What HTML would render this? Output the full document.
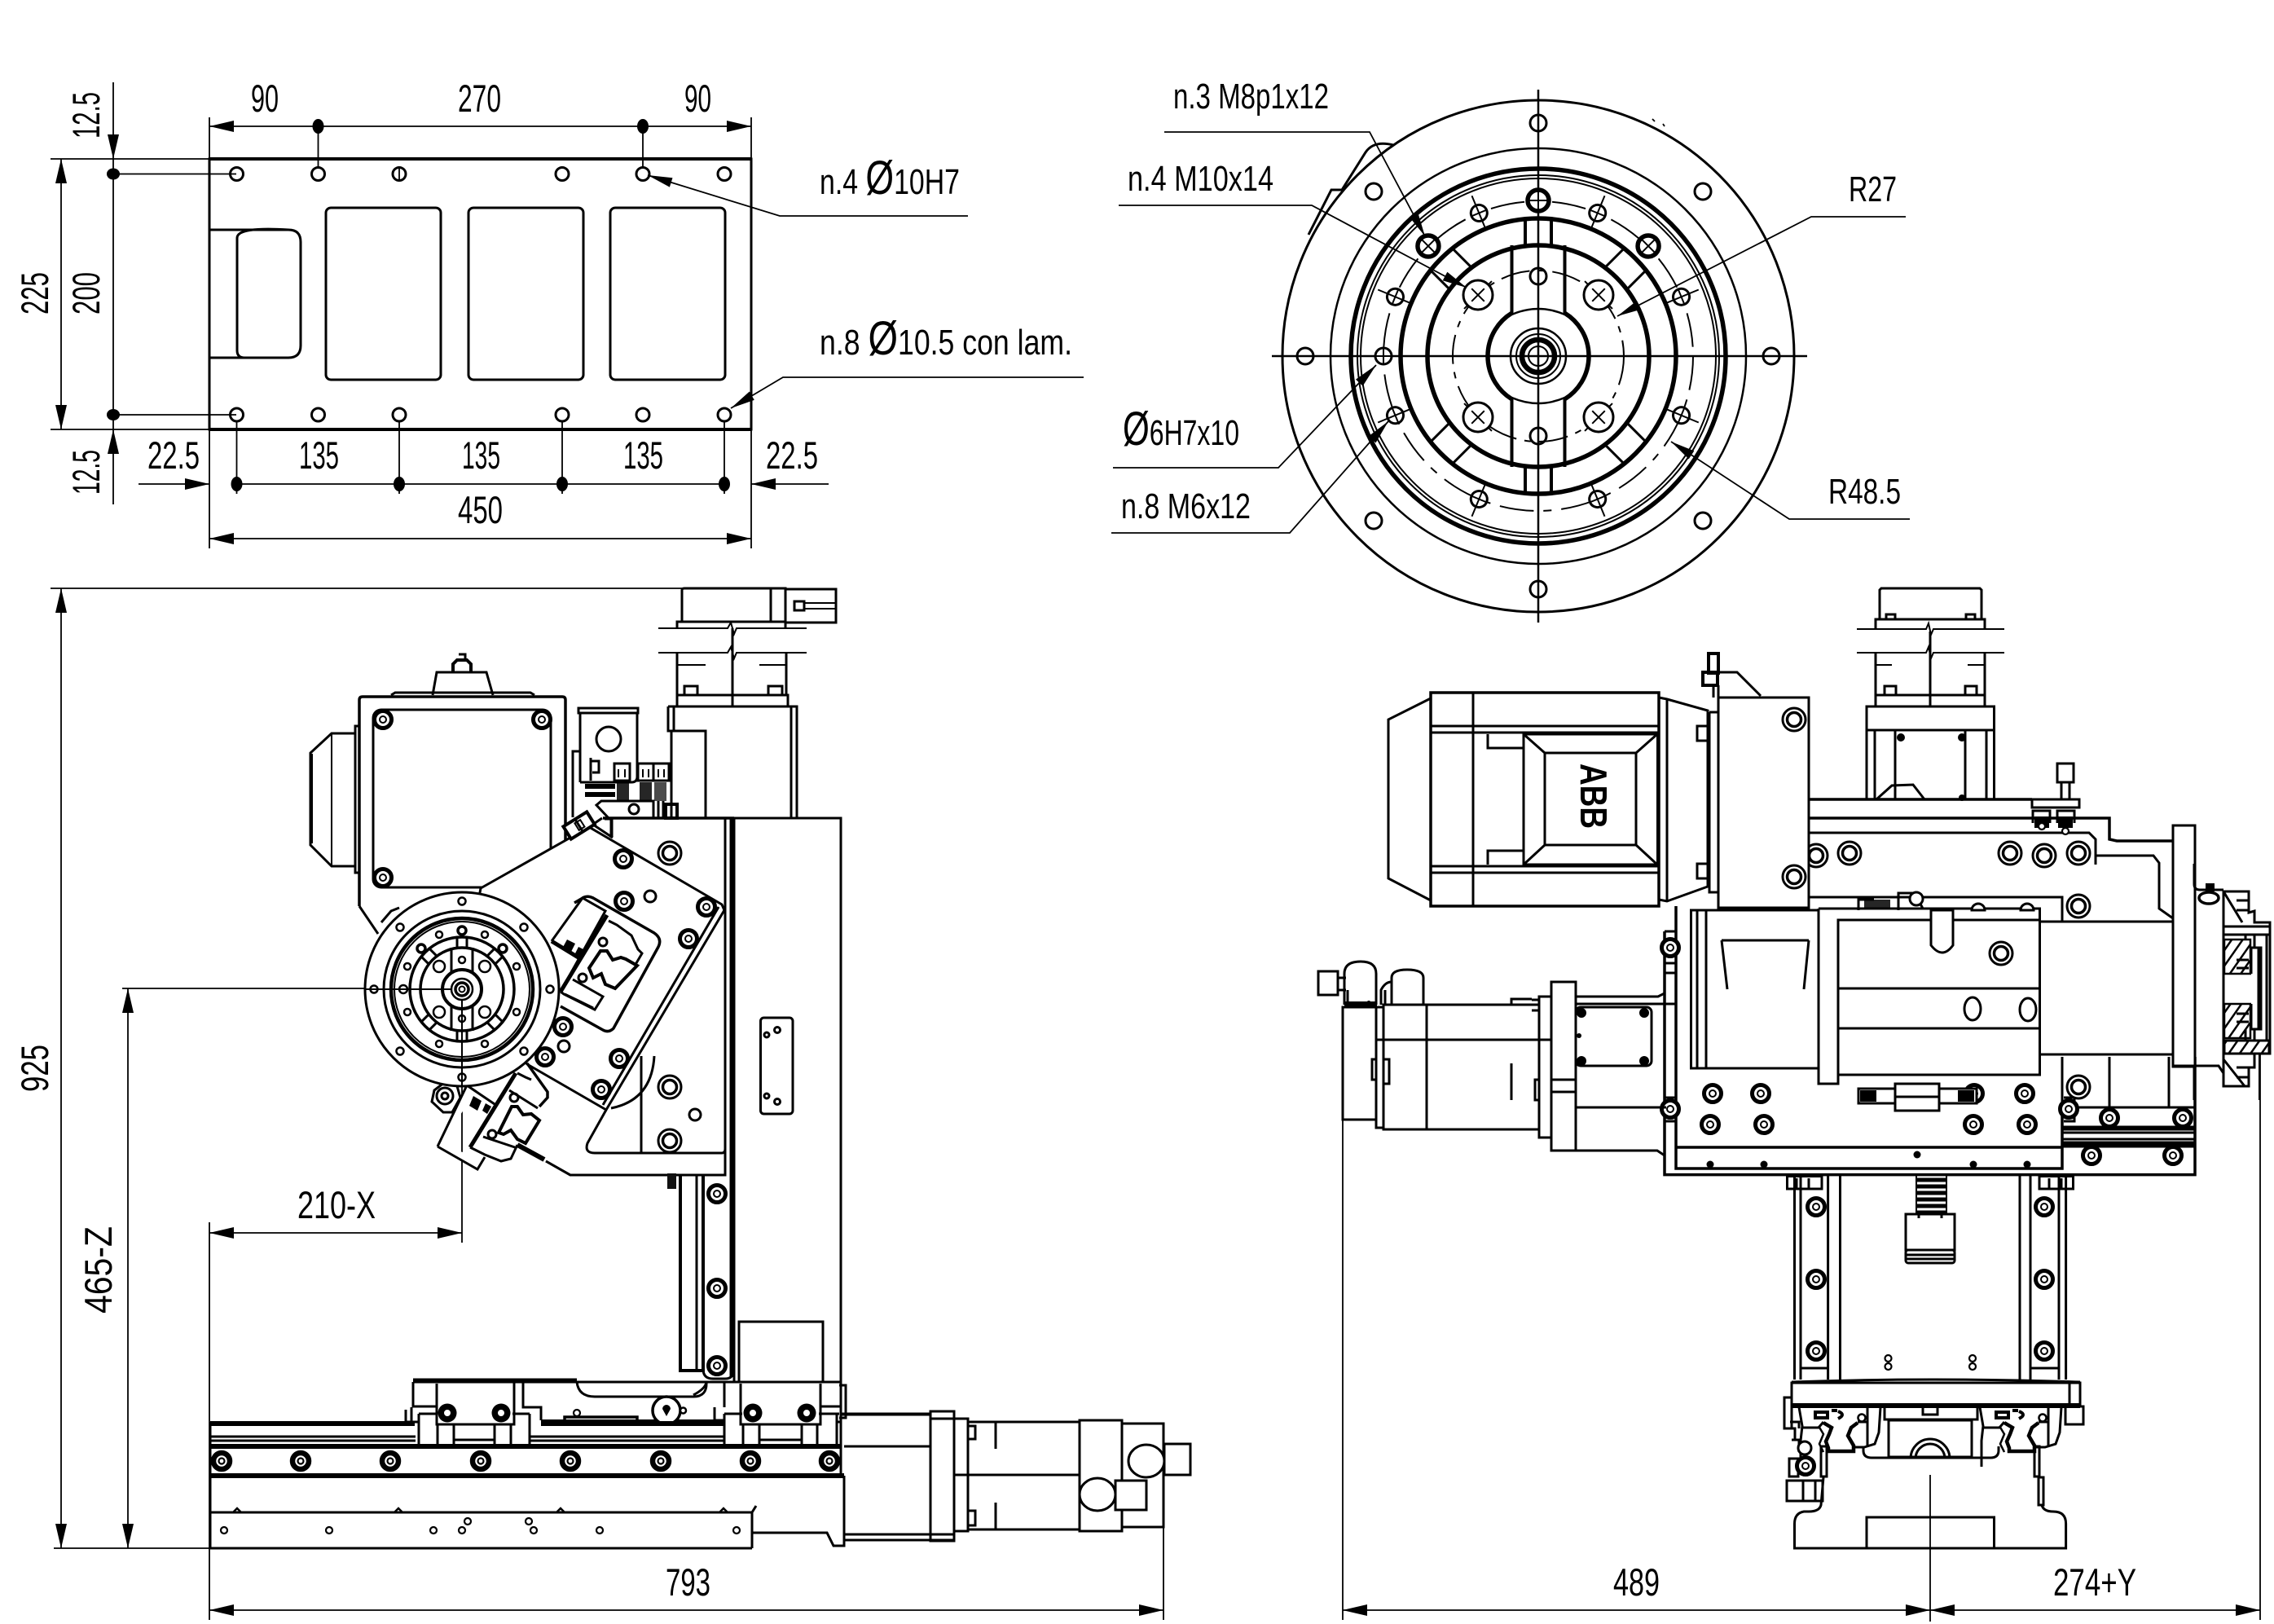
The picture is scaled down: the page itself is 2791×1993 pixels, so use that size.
<!DOCTYPE html>
<html><head><meta charset="utf-8"><style>
html,body{margin:0;padding:0;background:#fff}
svg{display:block}
.o,.o *{fill:none;stroke:#000;stroke-width:3}
.w,.w *{fill:#fff;stroke:#000;stroke-width:3}
.d,.d *{fill:none;stroke:#000;stroke-width:1.8}
.h,.h *{fill:#000;stroke:none}
.k{fill:none;stroke:#000;stroke-width:5.5}
.t{fill:none;stroke:#000;stroke-width:2}
text{font-family:"Liberation Sans",sans-serif;font-size:47px;fill:#000;stroke:none}
.s{font-size:44px}
.z{font-size:58px}
</style></head><body>
<svg xmlns="http://www.w3.org/2000/svg" width="2791" height="1993" viewBox="0 0 2791 1993">
<defs>
<pattern id="ht" width="11" height="11" patternUnits="userSpaceOnUse" patternTransform="rotate(35)"><rect width="11" height="11" fill="#fff"/><rect width="2.5" height="11" fill="#000"/></pattern>
<g id="b"><circle r="10.5" fill="#fff" stroke="#000" stroke-width="5"/><circle r="4" fill="none" stroke="#000" stroke-width="2"/></g>
<g id="bb"><circle r="10" fill="#fff" stroke="#000" stroke-width="6.5"/><circle r="3.5" fill="none" stroke="#000" stroke-width="2.2"/></g>
<g id="bh"><circle r="14" fill="#fff" stroke="#000" stroke-width="3"/><circle r="8.5" fill="#fff" stroke="#000" stroke-width="3.5"/></g>
<g id="p"><circle r="7" fill="#fff" stroke="#000" stroke-width="3"/></g>
<g id="q"><circle r="4" fill="#fff" stroke="#000" stroke-width="2.2"/></g>
<g id="m6"><path d="M0-23V23" stroke="#000" stroke-width="2" fill="none"/><circle r="10" fill="#fff" stroke="#000" stroke-width="3"/><path d="M0-10V10M-10 0H10" stroke="#000" stroke-width="2" fill="none"/></g>
<g id="m8"><circle r="13" fill="#fff" stroke="#000" stroke-width="5.5"/><path d="M0-12V12M-12 0H12" stroke="#000" stroke-width="2" fill="none"/></g>
<g id="m10"><path d="M-24 0H24" stroke="#000" stroke-width="2" fill="none"/><circle r="18" fill="#fff" stroke="#000" stroke-width="3"/><path d="M0-11V11M-11 0H11" stroke="#000" stroke-width="2" fill="none"/></g>
<path id="ar" d="M0 0 30-7V7Z" fill="#000"/>
<g id="carr">
<path class="t" style="stroke-width:3" d="M2208 1727 2212 1750 2210 1768V1800M2308 1727 2306 1758 2301 1772 2288 1776H2276M2292 1727V1774M2212 1752H2232L2238 1745M2280 1745H2292"/>
<path class="t" style="stroke-width:4.5" d="M2238 1746 2248 1752 2245 1760 2241 1769 2244 1777V1781H2275V1774L2268 1762 2272 1752 2280 1746"/>
<path class="t" style="stroke-width:2.5" d="M2232 1750 2238 1760 2233 1772 2238 1782"/>
<circle cx="2285" cy="1740" r="4.5" fill="#fff" stroke="#000" stroke-width="2.5"/>
<path class="t" style="stroke-width:4" d="M2228 1733H2243V1740H2228ZM2248 1731H2255M2256 1732Q2266 1736 2256 1741"/>
</g>
</defs>
<rect width="2791" height="1993" fill="#fff"/>

<!-- ===== TOP LEFT PLATE ===== -->
<g class="o">
<rect x="257" y="195" width="665" height="332" stroke-width="2.5"/>
<path d="M257 195H922M257 527H922" style="stroke-width:4"/>
<rect x="400" y="255" width="141" height="211" rx="6"/>
<rect x="575" y="255" width="141" height="211" rx="6"/>
<rect x="749" y="255" width="141" height="211" rx="6"/>
<path d="M257 282H354Q369 282 369 297V424Q369 439 354 439H257"/>
<path d="M354 282Q291 278 291 292V430Q291 439 300 439"/>
</g>
<g class="o" style="stroke-width:2.5">
<circle cx="290.5" cy="213.5" r="8"/><circle cx="390.5" cy="213.5" r="8"/><circle cx="490" cy="213.5" r="8"/><circle cx="690" cy="213.5" r="8"/><circle cx="789" cy="213.5" r="8"/><circle cx="889" cy="213.5" r="8"/>
<circle cx="290.5" cy="509" r="8"/><circle cx="390.5" cy="509" r="8"/><circle cx="490" cy="509" r="8"/><circle cx="690" cy="509" r="8"/><circle cx="789" cy="509" r="8"/><circle cx="889" cy="509" r="8"/>
</g>
<g class="d">
<path d="M257 144V195M922 144V195M257 527V673M922 527V673M62 195H257M62 527H257"/>
<path d="M257 155H922M390.5 155V205M789 155V205M490 205V222"/>
<path d="M139 101V619M139 213.5H290M139 509H290M75 195V527"/>
<path d="M170 594H257M290.5 594H889M922 594H1017M290.5 517V606M490 517V606M690 517V606M889 517V606"/>
<path d="M257 661H922"/>
<path d="M1188 265H957L795 215M1330 463H961L897 501"/>
</g>
<g class="h">
<use href="#ar" x="257" y="155"/><use href="#ar" transform="translate(922 155) rotate(180)"/>
<use href="#ar" x="257" y="661"/><use href="#ar" transform="translate(922 661) rotate(180)"/>
<use href="#ar" transform="translate(257 594) rotate(180)"/><use href="#ar" x="922" y="594"/>
<use href="#ar" transform="translate(75 195) rotate(90)"/><use href="#ar" transform="translate(75 527) rotate(-90)"/>
<use href="#ar" transform="translate(139 195) rotate(-90)"/><use href="#ar" transform="translate(139 527) rotate(90)"/>
<polygon points="795,215 825.5,218.2 821.9,229.6"/><polygon points="897,501 925.8,490.9 919.8,480.5"/>
<ellipse cx="390.5" cy="155" rx="7" ry="9"/><ellipse cx="789" cy="155" rx="7" ry="9"/><ellipse cx="139" cy="213.5" rx="8" ry="7"/><ellipse cx="139" cy="509" rx="8" ry="7"/>
<ellipse cx="290.5" cy="594" rx="7" ry="9"/><ellipse cx="490" cy="594" rx="7" ry="9"/><ellipse cx="690" cy="594" rx="7" ry="9"/><ellipse cx="889" cy="594" rx="7" ry="9"/>
</g>
<text x="308" y="137" textLength="34" lengthAdjust="spacingAndGlyphs">90</text>
<text x="562" y="137" textLength="53" lengthAdjust="spacingAndGlyphs">270</text>
<text x="840" y="137" textLength="33" lengthAdjust="spacingAndGlyphs">90</text>
<text transform="translate(122 170) rotate(-90)" textLength="57" lengthAdjust="spacingAndGlyphs">12.5</text>
<text transform="translate(122 607) rotate(-90)" textLength="55" lengthAdjust="spacingAndGlyphs">12.5</text>
<text transform="translate(59 386) rotate(-90)" textLength="52" lengthAdjust="spacingAndGlyphs">225</text>
<text transform="translate(122 386) rotate(-90)" textLength="52" lengthAdjust="spacingAndGlyphs">200</text>
<text x="181" y="575" textLength="64" lengthAdjust="spacingAndGlyphs">22.5</text>
<text x="367" y="575" textLength="49" lengthAdjust="spacingAndGlyphs">135</text>
<text x="567" y="575" textLength="47" lengthAdjust="spacingAndGlyphs">135</text>
<text x="765" y="575" textLength="49" lengthAdjust="spacingAndGlyphs">135</text>
<text x="940" y="575" textLength="64" lengthAdjust="spacingAndGlyphs">22.5</text>
<text x="562" y="642" textLength="55" lengthAdjust="spacingAndGlyphs">450</text>
<text class="s" x="1006" y="238" textLength="172" lengthAdjust="spacingAndGlyphs">n.4 <tspan class="z">Ø</tspan>10H7</text>
<text class="s" x="1006" y="435" textLength="310" lengthAdjust="spacingAndGlyphs">n.8 <tspan class="z">Ø</tspan>10.5 con lam.</text>

<!-- ===== TOP RIGHT FLANGE ===== -->
<path class="o" d="M1606 288 1634 233H1647L1676 187Q1686 172 1710 178"/>
<g transform="translate(1888 437)">
<g class="o">
<circle r="314"/><circle r="255" style="stroke-width:2.5"/><circle r="230" style="stroke-width:5.5"/><circle r="222" style="stroke-width:2"/><circle r="218" style="stroke-width:2"/>
<circle r="169" style="stroke-width:5.5"/><circle r="136" style="stroke-width:5.5"/><circle r="34" style="stroke-width:2.5"/><circle r="27" style="stroke-width:2"/><circle r="20" style="stroke-width:6.5"/><circle r="12" style="stroke-width:2"/>
<path d="M-32.5-52.8A62 62 0 0 0-32.5 52.8M32.5-52.8A62 62 0 0 1 32.5 52.8" style="stroke-width:5.5"/>
<circle r="190" style="stroke-width:2;stroke-dasharray:42 12 10 12"/><circle r="105" style="stroke-width:2;stroke-dasharray:36 10 8 10"/>
<path d="M-327 0H330M0-327V327" style="stroke-width:2.5"/>
<path d="M-32.5-136V-51M32.5-136V-51M-16-170V-136M16-170V-136M-32.5 136V51M32.5 136V51M-16 170V136M16 170V136" style="stroke-width:4"/>
<path d="M-32.5-51Q0-65 32.5-51M-32.5 51Q0 65 32.5 51" style="stroke-width:2.5"/>
<g style="stroke-width:4">
<path transform="rotate(45)" d="M-19-136V-168M19-136V-168"/><path transform="rotate(-45)" d="M-19-136V-168M19-136V-168"/><path transform="rotate(135)" d="M-19-136V-168M19-136V-168"/><path transform="rotate(-135)" d="M-19-136V-168M19-136V-168"/>
</g>
</g>
<g class="o">
<circle cx="0" cy="-286" r="10"/><circle cx="0" cy="286" r="10"/><circle cx="-286" cy="0" r="10"/><circle cx="286" cy="0" r="10"/>
<circle cx="-202" cy="-202" r="10"/><circle cx="202" cy="-202" r="10"/><circle cx="-202" cy="202" r="10"/><circle cx="202" cy="202" r="10"/>
<circle cx="0" cy="-98" r="10"/><circle cx="0" cy="98" r="10"/>
</g>
<use href="#m6" transform="rotate(22.5) translate(0 -190)"/><use href="#m6" transform="rotate(-22.5) translate(0 -190)"/><use href="#m6" transform="rotate(67.5) translate(0 -190)"/><use href="#m6" transform="rotate(-67.5) translate(0 -190)"/><use href="#m6" transform="rotate(112.5) translate(0 -190)"/><use href="#m6" transform="rotate(-112.5) translate(0 -190)"/><use href="#m6" transform="rotate(157.5) translate(0 -190)"/><use href="#m6" transform="rotate(-157.5) translate(0 -190)"/>
<use href="#m6" transform="rotate(-90) translate(0 -190)"/>
<use href="#m8" transform="translate(0 -191)"/><use href="#m8" transform="rotate(45) translate(0 -191)"/><use href="#m8" transform="rotate(-45) translate(0 -191)"/>
<use href="#m10" transform="translate(-74 -75) rotate(-45)"/><use href="#m10" transform="translate(74 -75) rotate(45)"/><use href="#m10" transform="translate(-74 75) rotate(45)"/><use href="#m10" transform="translate(74 75) rotate(-45)"/>
</g>
<g class="d">
<path d="M1429 162H1681L1749 290M1373 252H1610L1800 353M2339 266H2223L1985 388M2344 637H2196L2051 542M1366 574H1569L1689 448M1364 654H1583L1704 517"/>
<path d="M2028 146l3 3M2041 152l2 3"/>
</g>
<g class="h">
<polygon points="1749,290 1740.2,260.7 1729.7,266.3"/><polygon points="1800,353 1776.3,333.7 1770.7,344.3"/><polygon points="1985,388 2014.4,379.6 2009,369"/><polygon points="2051,542 2072.7,563.4 2079.3,553.4"/><polygon points="1689,448 1672.6,473.8 1664,465.6"/><polygon points="1704,517 1688.5,543.5 1679.5,535.5"/>
</g>
<text class="s" x="1440" y="133" textLength="191" lengthAdjust="spacingAndGlyphs">n.3 M8p1x12</text>
<text class="s" x="1384" y="234" textLength="179" lengthAdjust="spacingAndGlyphs">n.4 M10x14</text>
<text class="s" x="2269" y="247" textLength="59" lengthAdjust="spacingAndGlyphs">R27</text>
<text class="s" x="1378" y="546" textLength="143" lengthAdjust="spacingAndGlyphs"><tspan class="z">Ø</tspan>6H7x10</text>
<text class="s" x="1376" y="636" textLength="159" lengthAdjust="spacingAndGlyphs">n.8 M6x12</text>
<text class="s" x="2244" y="618" textLength="89" lengthAdjust="spacingAndGlyphs">R48.5</text>

<!-- ===== SIDE VIEW DIMS ===== -->
<g class="d">
<path d="M62 722H837M66 1900H258M150 1213H470M75 722V1900M157 1213V1900"/>
<path d="M257 1500V1988M567 1214V1525M257 1513H567M257 1976H1428M1428 1860V1988"/>
</g>
<g class="h">
<use href="#ar" transform="translate(75 722) rotate(90)"/><use href="#ar" transform="translate(75 1900) rotate(-90)"/>
<use href="#ar" transform="translate(157 1213) rotate(90)"/><use href="#ar" transform="translate(157 1900) rotate(-90)"/>
<use href="#ar" x="257" y="1513"/><use href="#ar" transform="translate(567 1513) rotate(180)"/>
<use href="#ar" x="257" y="1976"/><use href="#ar" transform="translate(1428 1976) rotate(180)"/>
</g>
<text transform="translate(59 1340) rotate(-90)" textLength="58" lengthAdjust="spacingAndGlyphs">925</text>
<text transform="translate(137 1612) rotate(-90)" textLength="107" lengthAdjust="spacingAndGlyphs">465-Z</text>
<text x="365" y="1495" textLength="96" lengthAdjust="spacingAndGlyphs">210-X</text>
<text x="817" y="1958" textLength="55" lengthAdjust="spacingAndGlyphs">793</text>

<!-- ===== SIDE VIEW ===== -->
<!-- top connector -->
<g class="o">
<path d="M837 763V724Q837 722 840 722H964V763H837ZM946 722V763"/>
<path d="M831 771V763H964V771" />
<rect x="964" y="723" width="62" height="41"/>
<rect x="975" y="738" width="12" height="11"/>
<path d="M987 740H1026M987 747H1026" style="stroke-width:2"/>
<path class="t" style="stroke-width:2" d="M808 771H893L897 764 901 778 904 771H990M808 801H893L897 794 901 808 904 801H990"/>
<path d="M831 801V853M965 801V853M899 771V867"/>
<path d="M831 816H866M932 816H965" style="stroke-width:2"/>
<path d="M840 853V842H856V853M943 853V842H960V853"/>
<rect x="831" y="853" width="136" height="14"/>
<path d="M820 867H978V1004M820 867V897H866V1004M827 867V897M824 897V1004M971 867V1004"/>
</g>
<!-- small module -->
<g class="o">
<path d="M710 869H783V875H710ZM712 875V960M782 875V953Q782 960 775 960H712"/>
<circle cx="747" cy="907" r="15"/>
<path d="M703 1003V922H712"/>
<path d="M725 930V958M725 934H735V948H727"/>
<rect x="754" y="937" width="19" height="21"/><rect x="783" y="937" width="19" height="21"/><rect x="802" y="937" width="19" height="21"/>
<path d="M759 944V954M767 944V954M789 944V954M796 944V954M808 944V954M815 944V954" style="stroke-width:2"/>
</g>
<g class="h"><rect x="718" y="962" width="37" height="6"/><rect x="718" y="972" width="37" height="6"/><rect x="757" y="960" width="15" height="23" opacity=".85"/><rect x="785" y="960" width="15" height="23" opacity=".85"/><rect x="803" y="960" width="15" height="23" opacity=".7"/></g>
<path class="w" d="M732 988 738 983H802V1004H747ZM808 1004V983M814 1004V983"/>
<circle cx="778" cy="993" r="6" fill="#fff" stroke="#000" stroke-width="3"/>
<rect x="817" y="987" width="14" height="17" class="o" style="stroke-width:4"/>

<!-- column -->
<g class="o">
<rect x="901" y="1004" width="131" height="692"/>
<path d="M740 1004H901" style="stroke-width:3.5"/>
<path d="M898 1004V1690" style="stroke-width:5"/>
<path d="M890 1004V1442H700L670 1425M751 1004V1027"/>
<rect x="933.5" y="1249" width="39.5" height="118" rx="4"/>
<circle cx="954" cy="1264" r="3.5"/><circle cx="941" cy="1270" r="3"/><circle cx="941" cy="1345" r="3"/><circle cx="954" cy="1352" r="3.5"/>
</g>
<!-- motor -->
<g class="o">
<path d="M381 1037V924L407 900H436V1063H407Z"/><path d="M407 900V1063M383 925V1035" style="stroke-width:2"/>
<path d="M436 891H441V1071H436Z"/>
<path d="M480 853 485 850H651L656 853"/>
<path d="M531 853 536 825H597L605 853"/>
<path d="M441 1112V859Q441 855 445 855H690Q694 855 694 859V1050" style="stroke-width:3.5"/>
<path d="M441 1112 464 1146"/>
<rect x="458" y="871" width="218" height="218" rx="10"/>
<path d="M556 825V815L561 810H573L578 815V825" style="stroke-width:4"/><path d="M563 803H571V811" />
</g>
<use href="#b" x="470" y="883"/><use href="#b" x="665" y="883"/><use href="#b" x="470" y="1077"/>

<!-- hex plate -->
<path class="w" d="M590 1090 723 1015 886 1110 889 1117 744 1362 647 1306 567 1214Z"/>
<path class="o" d="M723 1015 739 1004M882 1113 740 1356"/>
<path class="o" d="M744 1362 721 1403Q717 1415 730 1415H886Q890 1415 890 1410M787 1296V1415M803 1296Q800 1350 750 1360"/>
<use href="#bh" x="822" y="1047"/><use href="#b" x="765" y="1054"/><use href="#b" x="766" y="1106"/><use href="#p" x="798" y="1100"/>
<use href="#b" x="867" y="1113"/><use href="#b" x="845" y="1152"/><use href="#b" x="691" y="1260"/><use href="#p" x="692" y="1284"/><use href="#b" x="669" y="1297"/><use href="#b" x="760" y="1299"/><use href="#b" x="738" y="1337"/>
<use href="#bh" x="822" y="1334"/><use href="#bh" x="822" y="1400"/><use href="#p" x="853" y="1368"/>

<!-- upper clamp -->
<g class="o">
<path d="M705 1108 717 1101Q722 1099 728 1102L803 1145Q813 1152 808 1162L753 1262Q747 1268 740 1264L688 1235" fill="#fff" style="fill:#fff;stroke-width:3.5"/>
<path d="M677 1155 715 1102 743 1118 688 1217" fill="#fff" style="fill:#fff"/>
<path d="M677 1155 713 1177M745 1123 688 1217" style="stroke-width:5"/>
<path d="M747 1130 757 1135 775 1148 783 1165 788 1170 778 1187M703 1202 740 1223 730 1239 692 1220 688 1217M693 1220Q710 1228 728 1237"/>
<path d="M723 1188 737 1167H745L752 1178 762 1175 768 1177 782 1185 755 1213 743 1208 738 1195 728 1200Z" fill="#fff" style="fill:#fff;stroke-width:4"/>
<circle cx="740" cy="1156" r="5"/><circle cx="715" cy="1200" r="5"/>
</g>
<g class="h"><polygon points="696,1153 706,1158 700,1170 690,1164"/><polygon points="710,1162 716,1165 712,1174 706,1170"/></g>

<!-- lower clamp -->
<g class="o">
<path d="M647 1305 672 1340V1347L662 1358" style="stroke-width:3.5"/>
<path d="M573 1332 610 1357M537 1407 573 1332 585 1340M537 1407 586 1435 595 1420" fill="#fff" style="fill:#fff"/>
<path d="M546 1328 533 1338 530 1352 544 1365 555 1365 565 1347 561 1333Z" fill="#fff" style="fill:#fff"/>
<circle cx="546" cy="1345" r="10" style="stroke-width:3"/><circle cx="546" cy="1345" r="4"/>
<path d="M633 1317 577 1408" style="stroke-width:5"/>
<path d="M635 1317 645 1322 652 1325M577 1408 595 1417 615 1425 627 1422 635 1405M625 1338 660 1360M593 1395 632 1408"/>
<path d="M612 1390 628 1358H635L642 1368 652 1367 662 1375 645 1403 635 1398 627 1387 618 1392Z" fill="#fff" style="fill:#fff;stroke-width:4"/>
<path d="M635 1405 668 1423" style="stroke-width:6"/>
<path d="M670 1425 700 1442H710"/>
<circle cx="631" cy="1347" r="5"/><circle cx="604" cy="1392" r="5"/>
</g>
<g class="h"><polygon points="581,1345 591,1351 586,1363 576,1357"/><polygon points="596,1354 603,1358 598,1367 592,1363"/></g>

<!-- small flange in side view -->
<g transform="translate(567 1214)">
<circle r="119" fill="#fff" stroke="#000" stroke-width="3"/>
<g class="o">
<circle r="96"/><circle r="87" style="stroke-width:4.5"/><circle r="83" style="stroke-width:2"/><circle r="64" style="stroke-width:3.5"/><circle r="51" style="stroke-width:3.5"/><circle r="24" style="stroke-width:4"/>
<circle r="13" style="stroke-width:2.5"/><circle r="8" style="stroke-width:3.5"/><circle r="3.5" style="stroke-width:2"/>
<path d="M-13-51V-19M13-51V-19M-13 51V19M13 51V19M-6-64V-51M6-64V-51M-6 64V51M6 64V51"/>
<path transform="rotate(45)" d="M-7-52V-64M7-52V-64"/><path transform="rotate(-45)" d="M-7-52V-64M7-52V-64"/><path transform="rotate(135)" d="M-7-52V-64M7-52V-64"/><path transform="rotate(-135)" d="M-7-52V-64M7-52V-64"/>
</g>
<g fill="#fff" stroke="#000" stroke-width="2.5">
<circle cx="0" cy="-108" r="4.5"/><circle cx="0" cy="108" r="4.5"/><circle cx="-108" cy="0" r="4.5"/><circle cx="108" cy="0" r="4.5"/>
<circle cx="-76" cy="-76" r="4.5"/><circle cx="76" cy="-76" r="4.5"/><circle cx="-76" cy="76" r="4.5"/><circle cx="76" cy="76" r="4.5"/>
<circle cx="0" cy="-72" r="5" stroke-width="3.5"/><circle cx="-50" cy="-50" r="5" stroke-width="3.5"/><circle cx="50" cy="-50" r="5" stroke-width="3.5"/>
<circle cx="-28" cy="-67" r="4"/><circle cx="28" cy="-67" r="4"/><circle cx="-67" cy="-28" r="4"/><circle cx="67" cy="-28" r="4"/><circle cx="-67" cy="28" r="4"/><circle cx="67" cy="28" r="4"/><circle cx="-28" cy="67" r="4"/><circle cx="28" cy="67" r="4"/>
<circle cx="-72" cy="0" r="5"/>
<circle cx="-28" cy="-28" r="7"/><circle cx="28" cy="-28" r="7"/><circle cx="-28" cy="28" r="7"/><circle cx="28" cy="28" r="7"/>
<circle cx="0" cy="-36" r="4"/><circle cx="0" cy="36" r="4"/>
</g>
<path class="t" d="M-119 0H-13M0 13V120"/>
</g>
<path class="o" d="M468 1132 480 1118 490 1114" />
<!-- connector tubes -->
<g class="o" transform="translate(725 1004) rotate(-32)"><rect x="-34" y="-9" width="34" height="18" fill="#fff" style="fill:#fff;stroke-width:4"/><rect x="-20" y="-5" width="8" height="10" style="stroke-width:2"/><path d="M-17-9V9" /></g>
<path class="o" d="M742 1005H750V1028M728 1012 752 1028" style="stroke-width:3"/>

<!-- rail vertical -->
<g class="o">
<path d="M835 1442V1682H863V1442" style="stroke-width:4"/><path d="M855 1442V1682" style="stroke-width:3"/>
<path d="M863 1442V1680Q863 1692 875 1692H890Q900 1692 900 1682V1442" />
<rect x="907" y="1622" width="103" height="74" style="fill:#fff"/>
</g>
<rect x="819" y="1440" width="11" height="19" fill="#111"/>
<use href="#b" x="880" y="1465"/><use href="#b" x="880" y="1581"/><use href="#b" x="880" y="1676"/>

<!-- carriage -->
<g class="o">
<path d="M507 1694H708" style="stroke-width:5"/>
<path d="M507 1696H1032M507 1696V1726H536M631 1696V1727M642 1696V1727H664V1743M536 1698V1748H631V1698"/>
<path d="M909 1698V1748H1007V1698M889 1696V1727M877 1727V1743H889M1007 1726H1032V1696"/>
<path d="M708 1696Q710 1714 730 1714H851Q868 1714 867 1696M867 1696Q866 1704 851 1712"/>
<path d="M514 1735H536M629 1735H650M889 1735H911M1005 1735H1030"/>
<path d="M514 1735V1772M650 1735V1772M889 1735V1772M1027 1735V1772"/>
<path d="M537 1748V1772M557 1748V1772M607 1748V1772M627 1748V1772M912 1748V1772M932 1748V1772M984 1748V1772M1003 1748V1772"/>
<path d="M557 1767H607M932 1767H984" />
<path d="M505 1727V1745M498 1730V1745H514" />
<path d="M1030 1700H1038V1740H1030M1033 1745H1028M1032 1735H1142" />
<rect x="693" y="1739" width="89" height="5" style="stroke-width:3.5"/>
</g>
<path d="M664 1745H889" stroke="#000" stroke-width="6" fill="none"/>
<circle cx="818" cy="1731" r="17" fill="#fff" stroke="#000" stroke-width="3.5"/><path d="M818 1724a5 5 0 0 1 5 5l-5 9-5-9a5 5 0 0 1 5-5z" fill="#000"/><circle cx="838.5" cy="1731" r="3.5" fill="#fff" stroke="#000" stroke-width="2.5"/>
<use href="#q" x="708" y="1734"/>
<circle cx="549" cy="1734" r="11.5" fill="#000"/><circle cx="549" cy="1734" r="5" fill="#fff" stroke="#000" stroke-width="2"/>
<circle cx="615" cy="1734" r="11.5" fill="#000"/><circle cx="615" cy="1734" r="5" fill="#fff" stroke="#000" stroke-width="2"/>
<circle cx="924" cy="1734" r="11.5" fill="#000"/><circle cx="924" cy="1734" r="5" fill="#fff" stroke="#000" stroke-width="2"/>
<circle cx="990" cy="1734" r="11.5" fill="#000"/><circle cx="990" cy="1734" r="5" fill="#fff" stroke="#000" stroke-width="2"/>

<!-- rail horizontal -->
<g class="o">
<path d="M258 1747H509M664 1747H889" style="stroke-width:6"/>
<path d="M258 1763H510M650 1763H889M258 1768H510M650 1768H889" style="stroke-width:3"/>
<path d="M257 1775H1032" style="stroke-width:6"/>
<path d="M257 1811H1036" style="stroke-width:6"/>
<path d="M1032 1696V1811M258 1745V1900M1036 1811V1897H1023L1015 1881H923"/>
<path d="M258 1856H923M923 1856V1900M258 1900H923" style="stroke-width:3"/>
<path d="M923 1856 928 1848" />
<path d="M286 1856 291 1851 296 1856M484 1856 489 1851 494 1856M683 1856 688 1851 693 1856M883 1856 888 1851 893 1856" style="stroke-width:2.5"/>
<path d="M1036 1883H1171M1036 1890H1171M1032 1736H1142M1036 1775H1142"/>
<rect x="1142" y="1732" width="29" height="159"/>
<path d="M1142 1741H1171"/>
<rect x="1171" y="1741" width="17" height="138"/>
<rect x="1188" y="1745" width="137" height="132"/>
<path d="M1171 1810H1325M1222 1745V1778M1222 1844V1877" />
<rect x="1325" y="1743" width="52" height="136"/>
<rect x="1377" y="1747" width="51" height="127"/>
<rect x="1429" y="1772" width="32" height="38" />
<rect x="1369" y="1817" width="38" height="36" fill="#fff" style="fill:#fff"/>
<ellipse cx="1407" cy="1793" rx="22" ry="20" style="fill:#fff"/>
<ellipse cx="1347" cy="1834" rx="22" ry="20" style="fill:#fff"/>
<rect x="1188" y="1750" width="9" height="16"/><rect x="1188" y="1854" width="9" height="18"/>
</g>
<use href="#bb" x="272" y="1793"/><use href="#bb" x="369" y="1793"/><use href="#bb" x="479" y="1793"/><use href="#bb" x="590" y="1793"/><use href="#bb" x="700" y="1793"/><use href="#bb" x="811" y="1793"/><use href="#bb" x="921" y="1793"/><use href="#bb" x="1018" y="1793"/>
<use href="#q" x="275" y="1878"/><use href="#q" x="404" y="1878"/><use href="#q" x="532" y="1878"/><use href="#q" x="567" y="1878"/><use href="#q" x="655" y="1878"/><use href="#q" x="736" y="1878"/><use href="#q" x="904" y="1878"/><use href="#q" x="574" y="1867"/><use href="#q" x="649" y="1867"/>

<!-- ===== FRONT VIEW ===== -->
<!-- front top -->
<g class="o">
<path d="M2307 760V724L2309 722H2430L2432 724V760"/>
<path d="M2302 772V760H2436V772"/>
<rect x="2315" y="754" width="11" height="6"/><rect x="2413" y="754" width="11" height="6"/>
<path class="t" style="stroke-width:2" d="M2279 772H2364L2367 765 2370 779 2373 772H2460M2279 801H2364L2367 794 2370 808 2373 801H2460"/>
<path d="M2302 801V853M2436 801V853M2369 775V867"/>
<path d="M2302 816H2322M2415 816H2436" style="stroke-width:2"/>
<rect x="2313" y="842" width="14" height="11"/><rect x="2412" y="842" width="14" height="11"/>
<rect x="2302" y="853" width="134" height="14"/>
<rect x="2291" y="867" width="156.5" height="29"/>
<path d="M2291 896V981M2301 896V981M2326 896V981M2412 896V981M2438 896V981M2447.5 896V981"/>
<path d="M2303 981 2322 964 2348 963 2362 981"/>
</g>
<g class="h"><circle cx="2333" cy="905" r="5"/><circle cx="2408" cy="905" r="5"/><circle cx="2408" cy="979" r="4"/></g>

<!-- base big -->
<g class="o">
<path d="M2220 981H2494M2220 1004H2589V1030L2598 1032H2667" style="stroke-width:3.5"/>
<path d="M2220 1022H2564L2572 1030V1061M2572 1050H2643L2650 1059V1115L2667 1127" />
<path d="M2220 1101H2531V1131" />
<path d="M2057 1112V1434H2531V1359M2057 1408H2531" style="stroke-width:3.5"/>
<path d="M2043 1143V1441.6H2694V1297" style="stroke-width:3.5"/>
<path d="M2531 1297V1359H2694M2589 1297V1359M2662 1297V1359M2531 1383H2694M2531 1390H2694M2531 1398H2694M2531 1407H2694" />
<path d="M2043 1143H2057M2043 1182H2057M2043 1347H2057M2043 1376H2057M2533 1347H2546V1376H2533" />
</g>
<path d="M2531 1385H2694M2531 1403H2694" stroke="#000" stroke-width="5" fill="none"/>
<use href="#b" x="2589" y="1372"/><use href="#b" x="2679" y="1372"/><use href="#b" x="2567" y="1418"/><use href="#b" x="2667" y="1418"/>
<use href="#b" x="2050" y="1163"/><use href="#b" x="2050" y="1361"/><use href="#b" x="2539" y="1361"/>
<use href="#bh" x="2229" y="1050"/><use href="#bh" x="2270" y="1047"/><use href="#bh" x="2467" y="1047"/><use href="#bh" x="2509" y="1050"/><use href="#bh" x="2551" y="1047"/><use href="#bh" x="2551" y="1112"/><use href="#bh" x="2551" y="1334"/>
<g class="h"><circle cx="2099" cy="1429" r="4.5"/><circle cx="2165" cy="1429" r="4.5"/><circle cx="2422" cy="1429" r="4.5"/><circle cx="2488" cy="1429" r="4.5"/><circle cx="2353" cy="1417" r="4.5"/></g>
<use href="#b" x="2102" y="1342"/><use href="#b" x="2161" y="1342"/><use href="#b" x="2423" y="1342"/><use href="#b" x="2485" y="1342"/><use href="#b" x="2099" y="1380"/><use href="#b" x="2165" y="1380"/><use href="#b" x="2422" y="1380"/><use href="#b" x="2488" y="1380"/>
<!-- handle -->
<g class="w"><rect x="2281" y="1336" width="145" height="18"/><rect x="2326" y="1330" width="54" height="33"/><path d="M2326 1346H2380"/></g>
<g class="h"><rect x="2283" y="1338" width="20" height="14"/><rect x="2403" y="1338" width="20" height="14"/></g>

<!-- motor ABB -->
<g class="o">
<path d="M1756 850H2036V1112H1756V850Z" style="stroke-width:3.5"/>
<path d="M1756 857 1704 883V1078L1756 1105" />
<path d="M1808 850V1112M1756 891H2036M1756 899H2036M1756 1063H2036M1756 1071H2036"/>
<path d="M2036 856 2046 858 2096 872V1088L2046 1106 2036 1104M2046 858V1106"/>
<rect x="1870" y="901" width="164.5" height="160"/>
<rect x="1896" y="924" width="112" height="113"/>
<path d="M1870 901 1896 924M2034 901 2008 924M1870 1061 1896 1037M2034 1061 2008 1037M1826 901V918H1870M1826 1061V1044H1870"/>
</g>
<text transform="translate(1940 937) rotate(90)" textLength="80" lengthAdjust="spacingAndGlyphs" style="font-weight:bold;font-size:46px">ABB</text>
<!-- bracket plate -->
<g class="o">
<path d="M2098 874V1095H2109M2098 874H2109" />
<rect x="2083" y="891" width="13" height="18"/><rect x="2083" y="1060" width="13" height="18"/>
<path d="M2090 825H2132L2161 854" />
<rect x="2090" y="825" width="18" height="16" style="stroke-width:4"/>
<rect x="2097" y="802" width="12" height="24" style="stroke-width:4"/>
<path d="M2103 841V856M2109 841V856"/>
<rect x="2075.5" y="1117" width="156.5" height="194" style="fill:#fff"/>
<path d="M2083 1117V1311M2094 1117V1311M2113 1154 2120 1214M2220 1154 2214 1214M2113 1154H2220"/>
<path d="M2109 856H2220V1114H2109Z" style="fill:#fff"/>
<path d="M2232 1115H2503.5V1319H2256M2232 1115V1330H2256V1129H2503.5M2256 1213H2503.5M2256 1262H2503.5"/>
<path d="M2503.5 1131H2667M2503.5 1294H2667"/>
<rect x="2667" y="1013" width="27" height="296" style="fill:#fff"/>
<ellipse cx="2421" cy="1238" rx="10" ry="14"/><ellipse cx="2489" cy="1239" rx="10" ry="14"/>
<path d="M2370 1117H2397V1160Q2384 1178 2370 1160Z" style="fill:#fff"/>
<path d="M2281 1117V1104H2300M2330 1117V1096H2350M2350 1096 2360 1115"/>
</g>
<rect x="2288" y="1104" width="32" height="10" fill="#000" opacity=".85"/>
<circle cx="2352" cy="1103" r="8" fill="#fff" stroke="#000" stroke-width="3"/>
<path d="M2420 1117a8 8 0 0 1 16 0ZM2480 1117a8 8 0 0 1 16 0Z" fill="#fff" stroke="#000" stroke-width="3"/>
<use href="#bh" x="2202" y="883"/><use href="#bh" x="2202" y="1076"/><use href="#bh" x="2456" y="1170"/>
<!-- fittings -->
<g class="o">
<path d="M2494 981H2552V991H2494ZM2525 937H2545V960H2525ZM2530 960V981M2540 960V981" />
<path d="M2495 1010V995H2516V1010M2525 1010V995H2546V1010"/>
</g>
<g class="h"><rect x="2497" y="1002" width="18" height="14"/><rect x="2526" y="1002" width="18" height="14"/></g>
<use href="#q" x="2506" y="1014"/><use href="#q" x="2535" y="1020"/>

<!-- right flange section -->
<g class="o">
<path d="M2693 1060V1085Q2693 1092 2700 1092H2729M2693 1310V1350"/>
<path d="M2667 1308H2723L2729 1317" />
<path d="M2729 1094H2760V1120L2767 1118V1132H2786V1293H2767V1310H2760V1333H2729Z" style="fill:#fff"/>
<path d="M2729 1137H2786M2729 1147H2786M2729 1094 2752 1132M2729 1300 2755 1333"/>
<path d="M2729 1277H2785" />
</g>
<rect x="2730" y="1153" width="32" height="42" fill="url(#ht)" stroke="#000" stroke-width="2.5"/>
<rect x="2730" y="1232" width="32" height="42" fill="url(#ht)" stroke="#000" stroke-width="2.5"/>
<rect x="2730" y="1277" width="55" height="16" fill="url(#ht)" stroke="#000" stroke-width="3"/>
<g class="o">
<path d="M2763 1163H2775V1263H2763M2763 1163V1195M2763 1232V1263" style="fill:#fff"/>
<path d="M2773 1163V1263" style="stroke-width:5"/>
<path d="M2767 1147V1163M2756 1147V1153M2767 1263V1277M2756 1263V1277M2782 1147V1277"/>
<path d="M2745 1105H2759M2745 1117H2759M2745 1310H2759M2745 1322H2759M2745 1178H2760M2745 1188H2760M2745 1244H2760M2745 1254H2760"/>
</g>
<rect x="2707" y="1084" width="11" height="10" fill="#000"/>
<ellipse cx="2711" cy="1102" rx="12" ry="7" fill="#fff" stroke="#000" stroke-width="3.5"/>
<path class="t" d="M2773 1293V1350"/>

<!-- left motor -->
<g class="o">
<rect x="1904" y="1205" width="30" height="207" />
<rect x="1889" y="1223" width="15" height="173" />
<rect x="1698" y="1233" width="191" height="153" />
<path d="M1689 1276H1904M1751 1233V1386M1855 1305V1350M1880 1227H1889V1240H1880M1855 1233V1226H1880"/>
<rect x="1689" y="1236" width="9" height="148"/>
<rect x="1648" y="1236" width="41" height="138" style="fill:#fff"/>
<rect x="1934" y="1236" width="93" height="72" rx="6"/>
<path d="M1934 1223H2035L2043 1219V1194M1934 1232H2057M1934 1359H2045M1904 1412H2034L2043 1418"/>
<rect x="2043" y="1194" width="14" height="38" />
<path d="M1650 1233V1195Q1650 1180 1670 1180 1689 1180 1689 1195V1233M1708 1233V1200Q1708 1190 1727 1190 1747 1190 1747 1200V1233M1695 1233V1215Q1700 1205 1708 1205"/>
<rect x="1618" y="1192" width="24" height="29"/>
<path d="M1642 1200H1652M1642 1215H1652M1654 1215V1232M1680 1233V1228M1700 1215V1232"/>
<path d="M1884 1325H1889V1350H1884ZM1684 1300H1689V1325H1684ZM1698 1300H1705V1330H1698Z" />
<path d="M1904 1340H1934M1904 1325H1934" />
</g>
<path d="M1650 1232H1690" stroke="#000" stroke-width="6" fill="none"/>
<g class="h"><circle cx="1941" cy="1243" r="6"/><circle cx="2018" cy="1243" r="6"/><circle cx="1941" cy="1302" r="6"/><circle cx="2018" cy="1302" r="6"/><circle cx="1938" cy="1271" r="3"/></g>

<!-- lower front -->
<g class="o">
<path d="M2202.5 1443V1693M2210 1443V1693M2243.6 1443V1693M2258.5 1443V1693M2479 1443V1693M2492 1443V1693M2527 1443V1693M2535.6 1443V1693" />
<path d="M2210 1679H2243M2492 1679H2527" />
<rect x="2193.5" y="1443.5" width="42.5" height="15.5"/><rect x="2503" y="1443.5" width="41.5" height="15.5"/>
<path d="M2205 1446V1458M2220 1446V1458M2515 1446V1458M2530 1446V1458"/>
<rect x="2339" y="1490" width="60" height="44"/>
<rect x="2339" y="1534" width="60" height="16" rx="3"/>
<path d="M2339 1540H2399M2339 1545H2399M2355 1490V1495M2383 1490V1495" />
<rect x="2199" y="1697" width="354" height="28"/>
<path d="M2199 1696Q2369 1690 2553 1696M2540 1697V1725"/>
<path d="M2199 1725H2553" style="stroke-width:6"/>
<rect x="2535" y="1726" width="22" height="22"/><rect x="2190" y="1715" width="9" height="38"/>
<rect x="2313" y="1726" width="114" height="16"/>
<rect x="2318" y="1743" width="102" height="45"/>
<path d="M2287 1775V1780Q2287 1789 2297 1789H2443Q2453 1789 2453 1780V1775" />
<path d="M2197 1745H2208V1753M2190 1753H2203V1767M2199 1767H2208V1782M2196 1790H2207V1812H2196Z"/>
<path d="M2235 1775H2242V1812H2235ZM2497 1775H2503V1812H2497ZM2502 1813H2508V1847H2502Z"/>
<rect x="2193" y="1817" width="44" height="25"/>
<path d="M2213 1817V1842M2228 1817V1842"/>
<path d="M2238 1813 2235 1847Q2233 1855 2220 1855H2214Q2202.5 1857 2202.5 1870V1900H2535.6V1870Q2535.6 1855 2520 1855 2508 1855 2506 1847"/>
<rect x="2291" y="1862" width="156.5" height="38" />
</g>
<path d="M2352 1448H2389M2352 1456H2389M2352 1464H2389M2352 1472H2389M2352 1480H2389M2352 1488H2389" stroke="#000" stroke-width="5" fill="none"/>
<path d="M2352 1443V1490M2389 1443V1490" stroke="#000" stroke-width="2" fill="none"/>
<use href="#carr"/><use href="#carr" x="222"/>
<path class="o" d="M2345 1790a24 24 0 0 1 48 0M2351 1790a18 18 0 0 1 36 0"/>
<path class="o" d="M2360 1726V1736H2378V1726"/>
<use href="#b" x="2229" y="1481"/><use href="#b" x="2229" y="1570"/><use href="#b" x="2229" y="1658"/>
<use href="#b" x="2509" y="1481"/><use href="#b" x="2509" y="1570"/><use href="#b" x="2509" y="1658"/>
<use href="#q" x="2317.5" y="1667"/><use href="#q" x="2317.5" y="1677"/><use href="#q" x="2421" y="1667"/><use href="#q" x="2421" y="1677"/>
<use href="#b" x="2216" y="1799"/><circle cx="2215" cy="1777" r="8" fill="#fff" stroke="#000" stroke-width="3"/>

<!-- front dims -->
<g class="d">
<path d="M1648 1374V1988M2369 1810V1990M2774 1293V1988M1648 1976H2774"/>
</g>
<g class="h">
<use href="#ar" x="1648" y="1976"/><use href="#ar" transform="translate(2369 1976) rotate(180)"/>
<use href="#ar" x="2369" y="1976"/><use href="#ar" transform="translate(2774 1976) rotate(180)"/>
</g>
<text x="1980" y="1958" textLength="57" lengthAdjust="spacingAndGlyphs">489</text>
<text x="2520" y="1958" textLength="102" lengthAdjust="spacingAndGlyphs">274+Y</text>
</svg>
</body></html>
